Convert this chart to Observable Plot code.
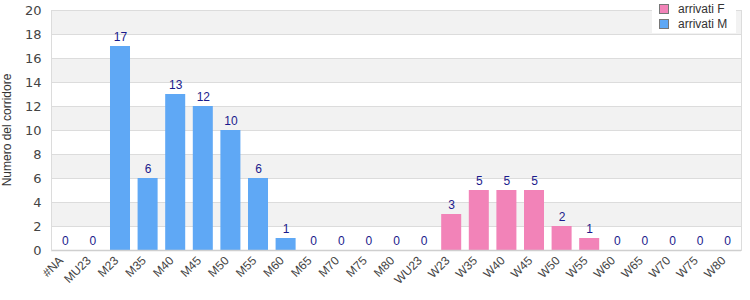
<!DOCTYPE html>
<html>
<head>
<meta charset="utf-8">
<script src="https://cdn.jsdelivr.net/npm/d3@7"></script>
<script src="https://cdn.jsdelivr.net/npm/@observablehq/plot@0.6"></script>
<style>
  body { margin: 0; background: #fff; font-family: "DejaVu Sans", Verdana, sans-serif; }
  #wrap { position: relative; width: 750px; height: 300px; }
  #legend { position: absolute; left: 652px; top: 0px; width: 84px; height: 33px; background: #fff; font-size: 12px; font-family: "Liberation Sans", Arial, sans-serif; color: #333; }
  #legend .row { position: absolute; left: 7px; height: 14px; line-height: 14px; white-space: nowrap; }
  #legend .sw { display: inline-block; width: 8px; height: 8px; border: 1px solid #777; margin-right: 9px; vertical-align: -1px; }
</style>
</head>
<body>
<div id="wrap"><div id="legend"></div></div>
<script>
const categories = ["#NA","MU23","M23","M35","M40","M45","M50","M55","M60","M65","M70","M75","M80","WU23","W23","W35","W40","W45","W50","W55","W60","W65","W70","W75","W80"];
const values = [0,0,17,6,13,12,10,6,1,0,0,0,0,0,3,5,5,5,2,1,0,0,0,0,0];
const series = ["M","M","M","M","M","M","M","M","M","M","M","M","M","F","F","F","F","F","F","F","F","F","F","F","F"];
const seriesNames = {F: "arrivati F", M: "arrivati M"};
const seriesColors = {F: "#f283b8", M: "#5fa8f5"};
const yTicks = [0,2,4,6,8,10,12,14,16,18,20];
const bandStarts = [2,6,10,14,18];

const data = categories.map((c, i) => ({cat: c, v: values[i], s: series[i]}));
const bands = bandStarts.map(b => ({y1: b, y2: b + 2}));

const chart = Plot.plot({
  width: 750,
  height: 300,
  marginLeft: 51,
  marginRight: 9,
  marginTop: 10,
  marginBottom: 50,
  style: {fontFamily: "'Liberation Sans', Arial, sans-serif", fontSize: "12px", background: "#fff"},
  x: {domain: categories, paddingInner: 0.275, paddingOuter: 0.1375, round: false, label: null},
  y: {domain: [0, 20], label: null},
  marks: [
    Plot.rect(bands, {y1: "y1", y2: "y2", fill: "#f2f2f2"}),
    Plot.ruleY(yTicks, {stroke: "#dcdcdc"}),
    Plot.barY(data, {x: "cat", y: "v", fill: d => seriesColors[d.s]}),
    Plot.ruleY([0], {stroke: "#cfcfcf", strokeWidth: 1.5}),
    Plot.frame({anchor: "left", stroke: "#dcdcdc"}),
    Plot.frame({anchor: "right", stroke: "#dcdcdc"}),
    Plot.text(data, {x: "cat", y: "v", text: d => String(d.v), dy: -9, fill: "#1a1a8c", fontSize: 12}),
    Plot.axisY({ticks: yTicks, tickSize: 0, tickPadding: 10, fontSize: 13, fontFamily: "'DejaVu Sans', Verdana, sans-serif", color: "#444", label: null}),
    Plot.axisX({tickSize: 0, tickRotate: -45, tickPadding: 8, dx: -4, fontSize: 12, color: "#444", label: null})
  ]
});
document.getElementById("wrap").prepend(chart);

// y-axis title
const svg = d3.select(chart);
svg.append("text")
  .attr("transform", "translate(11,130) rotate(-90)")
  .attr("text-anchor", "middle")
  .attr("font-size", 12)
  .attr("fill", "#333")
  .text("Numero del corridore");

const legend = document.getElementById("legend");
["F", "M"].forEach((k, i) => {
  const row = document.createElement("div");
  row.className = "row";
  row.style.top = (2 + i * 15) + "px";
  row.innerHTML = `<span class="sw" style="background:${seriesColors[k]}"></span>${seriesNames[k]}`;
  legend.appendChild(row);
});
</script>
</body>
</html>
